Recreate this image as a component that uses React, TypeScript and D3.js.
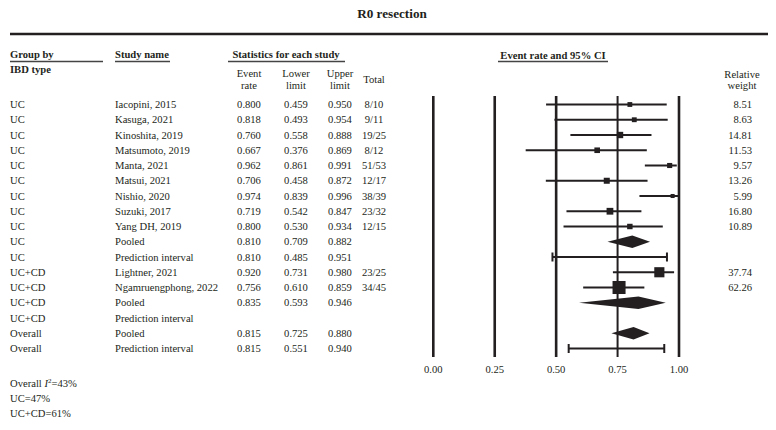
import React from "react";
import * as d3 from "d3";

const groups = ["UC","UC","UC","UC","UC","UC","UC","UC","UC","UC","UC","UC+CD","UC+CD","UC+CD","UC+CD","Overall","Overall"];
const studies = ["Iacopini, 2015","Kasuga, 2021","Kinoshita, 2019","Matsumoto, 2019","Manta, 2021","Matsui, 2021","Nishio, 2020","Suzuki, 2017","Yang DH, 2019","Pooled","Prediction interval","Lightner, 2021","Ngamruengphong, 2022","Pooled","Prediction interval","Pooled","Prediction interval"];
const kinds = ["study","study","study","study","study","study","study","study","study","pooled","pi","study","study","pooled","pi","pooled","pi"];
const eventRate: (number | null)[] = [0.8,0.818,0.76,0.667,0.962,0.706,0.974,0.719,0.8,0.81,0.81,0.92,0.756,0.835,null,0.815,0.815];
const lowerLimit: (number | null)[] = [0.459,0.493,0.558,0.376,0.861,0.458,0.839,0.542,0.53,0.709,0.485,0.731,0.61,0.593,null,0.725,0.551];
const upperLimit: (number | null)[] = [0.95,0.954,0.888,0.869,0.991,0.872,0.996,0.847,0.934,0.882,0.951,0.98,0.859,0.946,null,0.88,0.94];
const totals = ["8/10","9/11","19/25","8/12","51/53","12/17","38/39","23/32","12/15","","","23/25","34/45","","","",""];
const weights: (number | null)[] = [8.51,8.63,14.81,11.53,9.57,13.26,5.99,16.8,10.89,null,null,37.74,62.26,null,null,null,null];
const axisTicks = [0, 0.25, 0.5, 0.75, 1];
const footnotes = ["UC=47%", "UC+CD=61%"];

const FONT = "'Liberation Serif', 'Times New Roman', serif";
const INK = "#231f20";

export default function App() {
  const x = d3.scaleLinear().domain([0, 1]).range([433.3, 679]);
  const y = d3.scaleLinear().domain([0, 16]).range([104.5, 348.5]);
  const fs = 10.6;
  const f3 = d3.format(".3f");
  const f2 = d3.format(".2f");
  const clip = (v: number) => Math.max(0, Math.min(1, v));

  return (
    <svg width={776} height={430} style={{ position: "absolute", left: 0, top: 0, background: "#fff" }} fontFamily={FONT} fill={INK}>
      <rect width={776} height={430} fill="#fff" />
      <text x={392} y={18} textAnchor="middle" fontWeight="bold" fontSize={13.2}>R0 resection</text>
      <line x1={10} x2={768} y1={34} y2={34} stroke={INK} strokeWidth={2.5} />

      {/* headers */}
      <g fontWeight="bold" fontSize={fs}>
        <text x={10} y={54} dy="0.35em">Group by</text>
        <text x={10} y={69} dy="0.35em">IBD type</text>
        <text x={115} y={54} dy="0.35em">Study name</text>
        <text x={286} y={54} dy="0.35em" textAnchor="middle">Statistics for each study</text>
        <text x={553} y={55} dy="0.35em" textAnchor="middle">Event rate and 95% CI</text>
        <text x={249} y={73} dy="0.35em" textAnchor="middle" fontWeight="normal">Event</text>
        <text x={249} y={85} dy="0.35em" textAnchor="middle" fontWeight="normal">rate</text>
        <text x={296} y={73} dy="0.35em" textAnchor="middle" fontWeight="normal">Lower</text>
        <text x={296} y={85} dy="0.35em" textAnchor="middle" fontWeight="normal">limit</text>
        <text x={340} y={73} dy="0.35em" textAnchor="middle" fontWeight="normal">Upper</text>
        <text x={340} y={85} dy="0.35em" textAnchor="middle" fontWeight="normal">limit</text>
        <text x={374} y={79} dy="0.35em" textAnchor="middle" fontWeight="normal">Total</text>
        <text x={742} y={74} dy="0.35em" textAnchor="middle" fontWeight="normal">Relative</text>
        <text x={742} y={85} dy="0.35em" textAnchor="middle" fontWeight="normal">weight</text>
      </g>
      <g stroke="#444" strokeWidth={1.5}>
        <line x1={10} x2={103} y1={61.5} y2={61.5} />
        <line x1={115} x2={170} y1={61.5} y2={61.5} />
        <line x1={228} x2={345} y1={61.5} y2={61.5} />
        <line x1={498} x2={608} y1={61.5} y2={61.5} />
      </g>

      {/* reference lines */}
      {axisTicks.map((t) => (
        <g key={t}>
          <line x1={x(t)} x2={x(t)} y1={96} y2={357} stroke={INK} strokeWidth={t === 0.75 ? 2 : 2.6} />
          <text x={x(t)} y={369} dy="0.35em" textAnchor="middle" fontSize={fs}>{f2(t)}</text>
        </g>
      ))}

      {/* rows */}
      {studies.map((s, i) => {
        const yy = y(i);
        const er = eventRate[i], lo = lowerLimit[i], hi = upperLimit[i], w = weights[i];
        let mark: React.ReactNode = null;
        if (er != null && lo != null && hi != null) {
          if (kinds[i] === "study") {
            const sz = 1.65 * Math.sqrt(w ?? 1);
            mark = (
              <g>
                <line x1={x(clip(lo))} x2={x(clip(hi))} y1={yy} y2={yy} stroke={INK} strokeWidth={2} />
                <rect x={x(er) - sz / 2} y={yy - sz / 2} width={sz} height={sz} fill={INK} />
              </g>
            );
          } else if (kinds[i] === "pooled") {
            const h = 6.2;
            mark = (
              <path d={`M${x(lo)},${yy}L${x(er)},${yy - h}L${x(hi)},${yy}L${x(er)},${yy + h}Z`} fill={INK} />
            );
          } else {
            mark = (
              <g stroke={INK} strokeWidth={2}>
                <line x1={x(lo)} x2={x(hi)} y1={yy} y2={yy} />
                <line x1={x(lo)} x2={x(lo)} y1={yy - 4.5} y2={yy + 4.5} />
                <line x1={x(hi)} x2={x(hi)} y1={yy - 4.5} y2={yy + 4.5} />
              </g>
            );
          }
        }
        return (
          <g key={i} fontSize={fs}>
            <text x={10} y={yy} dy="0.35em">{groups[i]}</text>
            <text x={115} y={yy} dy="0.35em">{s}</text>
            {er != null && <text x={249} y={yy} dy="0.35em" textAnchor="middle">{f3(er)}</text>}
            {lo != null && <text x={296} y={yy} dy="0.35em" textAnchor="middle">{f3(lo)}</text>}
            {hi != null && <text x={340} y={yy} dy="0.35em" textAnchor="middle">{f3(hi)}</text>}
            {totals[i] && <text x={374} y={yy} dy="0.35em" textAnchor="middle">{totals[i]}</text>}
            {w != null && <text x={752} y={yy} dy="0.35em" textAnchor="end">{f2(w)}</text>}
            {mark}
          </g>
        );
      })}

      {/* footnotes */}
      <g fontSize={fs}>
        <text x={10} y={383} dy="0.35em">
          Overall <tspan fontStyle="italic">I</tspan><tspan fontSize={7} dy="-4">2</tspan><tspan dy="4">=43%</tspan>
        </text>
        {footnotes.map((t, k) => (
          <text key={t} x={10} y={398 + k * 15} dy="0.35em">{t}</text>
        ))}
      </g>
    </svg>
  );
}
